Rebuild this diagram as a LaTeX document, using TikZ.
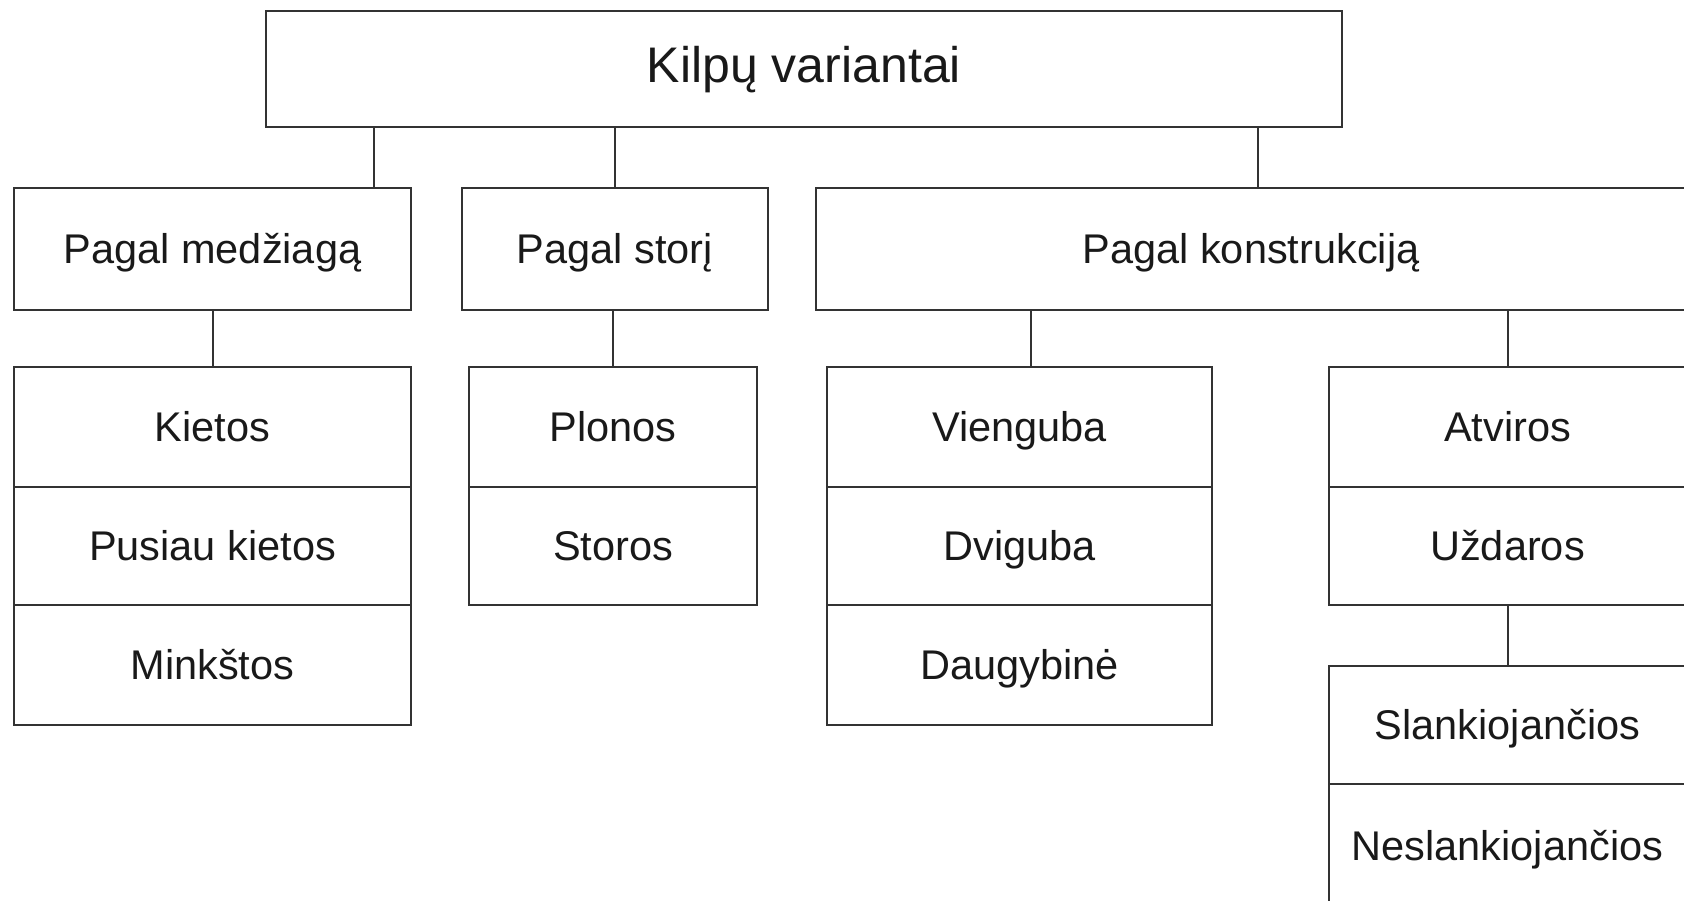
\documentclass[tikz,border=0pt]{standalone}
\usepackage{fontspec}
\setmainfont{Liberation Sans}
\begin{document}
\begin{tikzpicture}[x=1pt,y=-1pt,
  box/.style={draw=black!80, line width=2.4pt, rectangle, inner sep=0pt,
    font=\fontsize{41.5}{48}\selectfont, text=black!90,
    text height=30pt, text depth=1pt},
  link/.style={draw=black!80, line width=2pt}]
\useasboundingbox (0,0) rectangle (1684,901);
% level 1
\node[box, minimum width=1076pt, minimum height=116pt, font=\fontsize{50}{58}\selectfont,
  text height=36pt, text depth=9pt] (root) at (804,69) {Kilpų variantai};
% level 2
\node[box, minimum width=397pt, minimum height=122pt] (med) at (212.5,249) {Pagal medžiagą};
\node[box, minimum width=306pt, minimum height=122pt] (stor) at (615,249) {Pagal storį};
\node[box, minimum width=870pt, minimum height=122pt] (kon) at (1251,249) {Pagal konstrukciją};
% level 3
\node[box, minimum width=397pt, minimum height=120pt] (kiet) at (212.5,427) {Kietos};
\node[box, minimum width=397pt, minimum height=118pt] (pus) at (212.5,546) {Pusiau kietos};
\node[box, minimum width=397pt, minimum height=120pt] (mink) at (212.5,665) {Minkštos};
\node[box, minimum width=288pt, minimum height=120pt] (plon) at (613,427) {Plonos};
\node[box, minimum width=288pt, minimum height=118pt] (stors) at (613,546) {Storos};
\node[box, minimum width=385pt, minimum height=120pt] (vien) at (1019.5,427) {Vienguba};
\node[box, minimum width=385pt, minimum height=118pt] (dvig) at (1019.5,546) {Dviguba};
\node[box, minimum width=385pt, minimum height=120pt] (daug) at (1019.5,665) {Daugybinė};
\node[box, minimum width=357pt, minimum height=120pt] (atv) at (1507.5,427) {Atviros};
\node[box, minimum width=357pt, minimum height=118pt] (uzd) at (1507.5,546) {Uždaros};
% level 4
\node[box, minimum width=357pt, minimum height=118pt] (slank) at (1507.5,725) {Slankiojančios};
\node[box, minimum width=357pt, minimum height=124pt] (neslank) at (1507.5,846) {Neslankiojančios};
% connector columns
\coordinate (cmed) at (374,0);
\coordinate (ckon) at (1258,0);
\coordinate (cvien) at (1031,0);
% connectors
\draw[link] (cmed |- root.south) -- (cmed |- med.north);
\draw[link] (stor.north |- root.south) -- (stor.north);
\draw[link] (ckon |- root.south) -- (ckon |- kon.north);
\draw[link] (med.south) -- (kiet.north);
\draw[link] (plon.north |- stor.south) -- (plon.north);
\draw[link] (cvien |- kon.south) -- (cvien |- vien.north);
\draw[link] (atv.north |- kon.south) -- (atv.north);
\draw[link] (uzd.south) -- (slank.north);
\end{tikzpicture}
\end{document}
